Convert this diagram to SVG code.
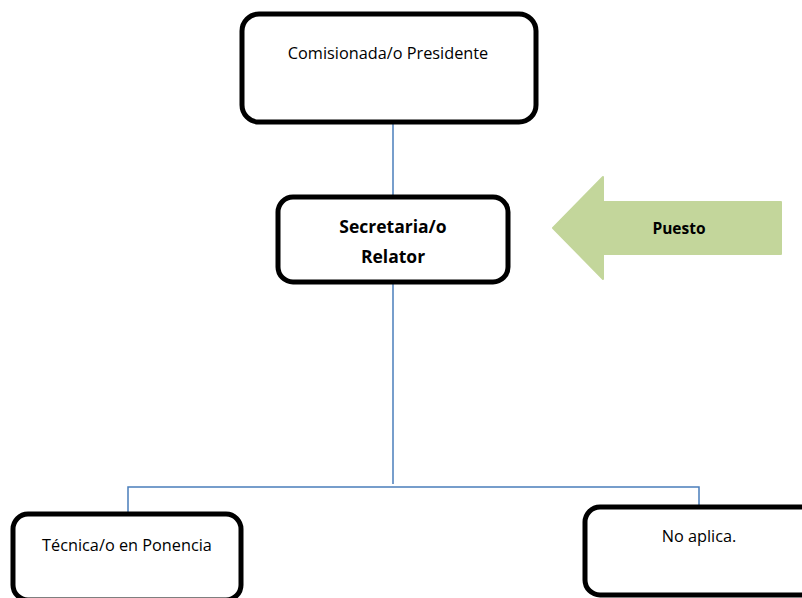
<svg xmlns="http://www.w3.org/2000/svg" width="802" height="598" viewBox="0 0 802 598">
<style>
.box{fill:#fff;stroke:#000;stroke-width:5}
.t{font-family:"Open Sans","Noto Sans",sans-serif;font-size:16.3px;fill:#000;text-anchor:middle}
.b{font-weight:bold;font-size:17.5px}
.c{fill:none;stroke:#4A7EBB;stroke-width:1.5}
</style>
<rect width="802" height="598" fill="#fff"/>
<g id="connectors">
<path class="c" d="M393 123V196"/>
<path class="c" d="M393 283V484"/>
<path class="c" d="M128 513V487H699V506"/>
</g>
<g id="presidente">
<rect class="box" x="242" y="14" width="294" height="108" rx="17"/>
<text class="t" x="388" y="59">Comisionada/o Presidente</text>
</g>
<g id="secretaria">
<rect class="box" x="278" y="197" width="230" height="85" rx="15"/>
<text class="t b" x="393" y="233">Secretaria/o</text>
<text class="t b" x="393" y="263">Relator</text>
</g>
<g id="puesto">
<path d="M553 228L603 177V202H781V254H603V279Z" fill="#C3D69B" stroke="#C3D69B" stroke-width="2" stroke-linejoin="round"/>
<text class="t b" x="679" y="234" style="font-size:15.5px">Puesto</text>
</g>
<g id="tecnica">
<rect class="box" x="13" y="514" width="228" height="86" rx="15"/>
<text class="t" x="127" y="551">Técnica/o en Ponencia</text>
</g>
<g id="noaplica">
<rect class="box" x="585" y="507" width="240" height="88" rx="15"/>
<text class="t" x="699" y="542">No aplica.</text>
</g>
</svg>
